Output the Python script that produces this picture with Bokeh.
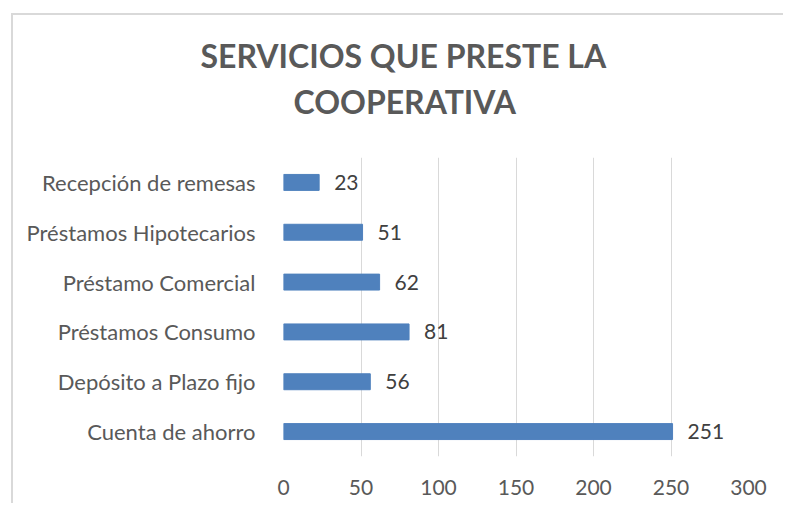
from bokeh.plotting import figure
from bokeh.models import ColumnDataSource, LabelSet, Title, FactorRange, Range1d, FixedTicker
from bokeh.core.properties import value
from bokeh.embed import file_html
from bokeh.resources import INLINE

categories = ["Cuenta de ahorro", "Depósito a Plazo fijo", "Préstamos Consumo",
              "Préstamo Comercial", "Préstamos Hipotecarios", "Recepción de remesas"]
values = [251, 56, 81, 62, 51, 23]
x_ticks = [0, 50, 100, 150, 200, 250, 300]
title_lines = ["SERVICIOS QUE PRESTE LA", "COOPERATIVA"]

FONT = "Lato"
W, H = 772, 490
ML, MR, MT, MB = 270, 37, 142, 49

src = ColumnDataSource(dict(cat=categories, val=values, lab=[str(v) for v in values]))

p = figure(width=W, height=H, output_backend="svg", toolbar_location=None,
           y_range=FactorRange(*categories, range_padding=0),
           x_range=Range1d(0, 300),
           min_border_left=ML, min_border_right=MR, min_border_top=MT, min_border_bottom=MB)
p.margin = (13, 0, 0, 11)
p.styles = {"border-left": "2px solid #d9d9d9", "border-top": "2px solid #d9d9d9"}
p.outline_line_color = None
p.background_fill_color = "white"
p.border_fill_color = "white"

p.hbar(y="cat", right="val", left=0, height=0.32, source=src,
       fill_color="#4f81bd", line_color="#4f81bd")

p.add_layout(LabelSet(x="val", y="cat", text="lab", source=src, x_offset=15,
                      text_baseline="middle", text_font=value(FONT), text_font_size="21px",
                      text_color="#404040"))

p.xaxis.ticker = FixedTicker(ticks=x_ticks)
p.xgrid.ticker = FixedTicker(ticks=x_ticks)
p.xgrid.grid_line_color = "#d9d9d9"
p.ygrid.grid_line_color = None
for ax in (p.xaxis, p.yaxis):
    ax.axis_line_color = None
    ax.major_tick_line_color = None
    ax.minor_tick_line_color = None
    ax.major_label_text_font = FONT
    ax.major_label_text_color = "#595959"
p.xaxis.major_label_text_font_size = "21px"
p.yaxis.major_label_text_font_size = "22px"
p.xaxis.major_label_standoff = 17
p.yaxis.major_label_standoff = 22

# spacer between the plot frame and the two-line title
p.add_layout(Title(text=" ", text_font_size="2px", standoff=33, text_color="white"), "above")

# title lines: bottom line added first (later ones stack further up);
# left-aligned with offsets so both lines are centred over the whole chart
title_offsets = [-83, 10]
title_standoffs = [10, 0]
for t, off, so in reversed(list(zip(title_lines, title_offsets, title_standoffs))):
    p.add_layout(Title(text=t, align="left", offset=off, standoff=so, text_font=FONT,
                       text_font_size="32px", text_font_style="bold", text_color="#595959"),
                 "above")

open("out.html", "w").write(file_html(p, INLINE))
